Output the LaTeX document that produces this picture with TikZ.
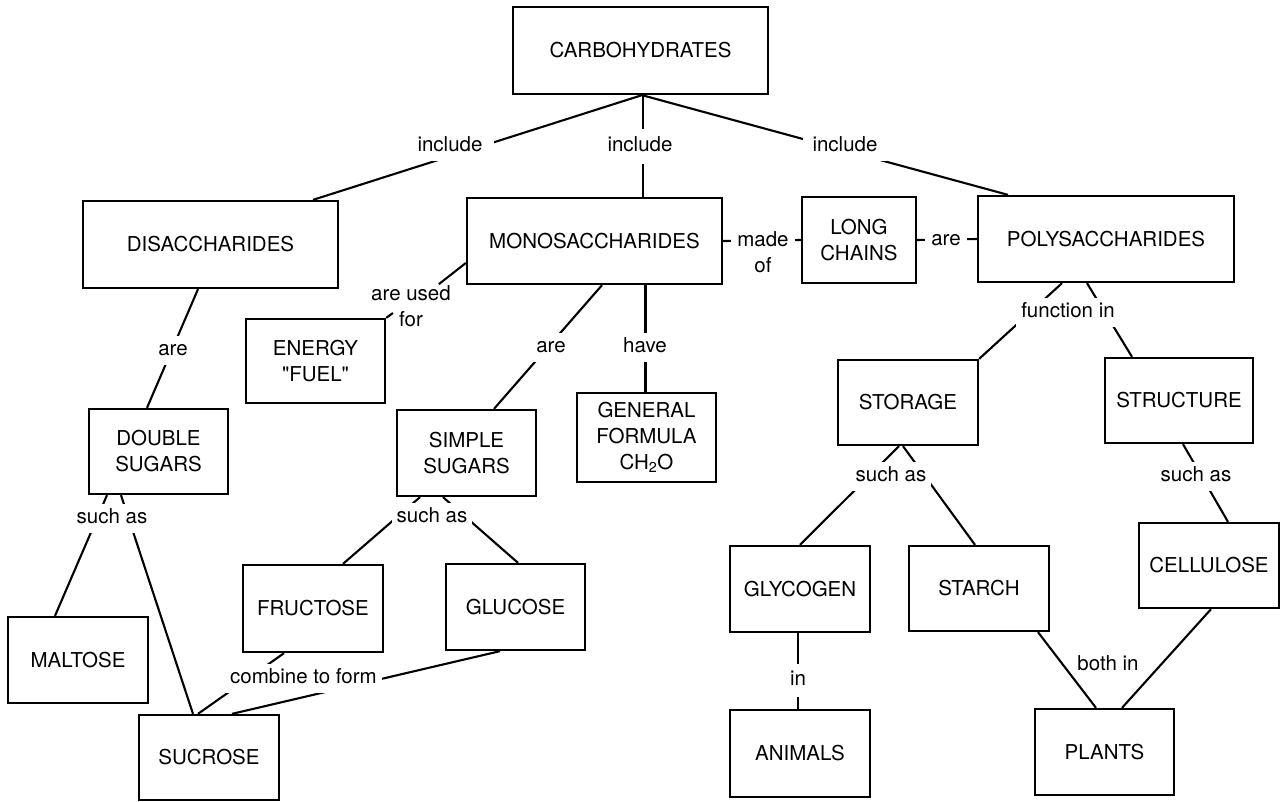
\documentclass[tikz,border=0pt]{standalone}
\usepackage{fontspec}
\newfontfamily\heros{TeX Gyre Heros}
\usetikzlibrary{backgrounds}
\begin{document}
\begin{tikzpicture}[x=1pt,y=-1pt,
  every node/.style={font=\heros\fontsize{20.5}{26}\selectfont},
  box/.style={draw, line width=2.3pt, inner sep=0pt, align=center},
  bx/.style 2 args={box, minimum width=#1pt, minimum height=#2pt},
  lbl/.style={fill=white, inner xsep=5pt, inner ysep=5pt, text height=15pt, text depth=4pt},
  conn/.style={line width=2.1pt}]
\useasboundingbox (0,0) rectangle (1283,801);
% boxes
\node[bx={255}{87}] (carb) at (640.5,50.5) {CARBOHYDRATES};
\node[bx={255}{87}] (disac) at (210.5,244.5) {DISACCHARIDES};
\node[bx={255}{86}] (mono) at (594.5,241) {MONOSACCHARIDES};
\node[bx={114}{86}] (long) at (859,240) {LONG\\CHAINS};
\node[bx={256}{86}] (poly) at (1106,239) {POLYSACCHARIDES};
\node[bx={139}{84}] (energy) at (315.5,361) {ENERGY\\"FUEL"};
\node[bx={139}{85}] (double) at (158.5,451.5) {DOUBLE\\SUGARS};
\node[bx={139}{86}] (simple) at (466.5,453) {SIMPLE\\SUGARS};
\node[bx={139}{89}] (general) at (646.5,437.5) {GENERAL\\FORMULA\\CH\textsubscript{2}O};
\node[bx={140}{85}] (storage) at (908,402.5) {STORAGE};
\node[bx={148}{85}] (structure) at (1179,400.5) {STRUCTURE};
\node[bx={140}{86}] (maltose) at (78,660) {MALTOSE};
\node[bx={140}{85}] (sucrose) at (209,757.5) {SUCROSE};
\node[bx={140}{87}] (fructose) at (313,608.5) {FRUCTOSE};
\node[bx={139}{86}] (glucose) at (515.5,607) {GLUCOSE};
\node[bx={140}{86}] (glycogen) at (800,589) {GLYCOGEN};
\node[bx={140}{85}] (starch) at (979,588.5) {STARCH};
\node[bx={140}{85}] (cellulose) at (1209,565.5) {CELLULOSE};
\node[bx={140}{87}] (animals) at (800,753.5) {ANIMALS};
\node[bx={139}{86}] (plants) at (1104.5,752) {PLANTS};
% labels
\node[lbl, inner xsep=12pt] (inc1) at (450,146) {include};
\node[lbl, inner ysep=8pt] (inc2) at (640,146) {include};
\node[lbl, inner xsep=10pt] (inc3) at (845,146) {include};
\node[fill=white, align=center, inner xsep=6pt, inner ysep=2pt] (madeof) at (763,252) {made\\of};
\node[lbl, inner xsep=6pt] (areB) at (946,240) {are};
\node[align=center, inner sep=1pt] (aused) at (411,306) {are used\\for};
\coordinate (fortick) at (393,313);
\node[lbl] (areM) at (551,347) {are};
\node[lbl] (have) at (645,347) {have};
\node[lbl] (areD) at (173,350) {are};
\node[lbl] (such1) at (112,518) {such as};
\node[lbl] (such2) at (432,517) {such as};
\node[lbl] (combine) at (303.5,678) {combine to form};
\node[lbl] (func) at (1068,312) {function in};
\node[lbl] (such3) at (891,476) {such as};
\node[lbl] (such4) at (1196,476) {such as};
\node[lbl, inner ysep=7pt] (inl) at (798,680) {in};
\node (both) at (1108,663) {both in};
% connectors
\begin{scope}[on background layer]
\draw[conn] ([xshift=1.5pt]carb.south) -- ([xshift=102.5pt]disac.north);
\draw[conn] ([xshift=2.5pt]carb.south) -- ([xshift=48.5pt]mono.north);
\draw[conn] ([xshift=1.5pt]carb.south) -- ([xshift=-98pt]poly.north);
\draw[conn] (mono.east) -- (long.west);
\draw[conn] (long.east) -- (poly.west);
\draw[conn] ([yshift=-22pt]mono.west) -- (aused);
\draw[conn] (energy.north east) -- (fortick);
\draw[conn] ([xshift=7.5pt]mono.south) -- ([xshift=27.5pt]simple.north);
\draw[conn] ([xshift=51pt]mono.south) -- ([xshift=-1pt]general.north);
\draw[conn] ([xshift=-12.5pt]disac.south) -- ([xshift=-11.5pt]double.north);
\draw[conn] ([xshift=-51.5pt]double.south) -- ([xshift=-23pt]maltose.north);
\draw[conn] ([xshift=-37.5pt]double.south) -- ([xshift=-16pt]sucrose.north);
\draw[conn] ([xshift=-46.5pt]simple.south) -- ([xshift=30pt]fructose.north);
\draw[conn] ([xshift=-23.5pt]simple.south) -- ([xshift=2.5pt]glucose.north);
\draw[conn] ([xshift=-29pt]fructose.south) -- ([xshift=-11pt]sucrose.north);
\draw[conn] ([xshift=-15.5pt]glucose.south) -- ([xshift=23pt]sucrose.north);
\draw[conn] ([xshift=-44pt]poly.south) -- (storage.north east);
\draw[conn] ([xshift=-19pt]poly.south) -- ([xshift=-47pt]structure.north);
\draw[conn] ([xshift=-9pt]storage.south) -- (glycogen.north);
\draw[conn] ([xshift=-5pt]storage.south) -- ([xshift=-4pt]starch.north);
\draw[conn] ([xshift=4pt]structure.south) -- ([xshift=19pt]cellulose.north);
\draw[conn] ([xshift=-2pt]glycogen.south) -- ([xshift=-2pt]animals.north);
\draw[conn] ([xshift=59pt]starch.south) -- ([xshift=-8.5pt]plants.north);
\draw[conn] ([xshift=2pt]cellulose.south) -- ([xshift=17.5pt]plants.north);
\end{scope}
\end{tikzpicture}
\end{document}
